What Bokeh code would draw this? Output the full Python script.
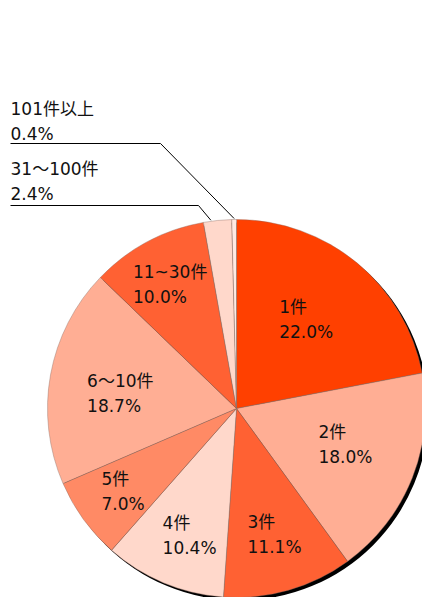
import math
from bokeh.plotting import figure
from bokeh.models import Range1d, ColumnDataSource
from bokeh.core.properties import value
from bokeh.embed import file_html
from bokeh.resources import INLINE

# ---- data ----
categories = ["1件", "2件", "3件", "4件", "5件", "6～10件", "11~30件", "31～100件", "101件以上"]
shares = [22.0, 18.0, 11.1, 10.4, 7.0, 18.7, 10.0, 2.4, 0.4]
pct_labels = [f"{v:.1f}%" for v in shares]

# ---- style / layout ----
colors = ["#FF4000", "#FFAE94", "#FF6133", "#FFD8CB", "#FF8A65",
          "#FFAE94", "#FF6133", "#FFD8CB", "#FFEAE3"]
R = 189
FONT = "DejaVu Sans, Noto Sans CJK JP"
FS = 17
LINE_GAP = 25
TEXT_DY = 1
# label radius for inside labels (None = outside label with leader line)
label_r = [112, 115, 133, 136, 141, 117, 140, None, None]
# small angular nudge (degrees, clockwise) of label / leader anchor
label_da = [-1.1, -2.9, -0.6, -2.5, -0.4, -3.6, -0.2, -2.0, 0.0]
# outside labels: (text centre y of first line, leader elbow x, leader y)
outside = {8: (300, -76, 265), 7: (240, -38, 203)}
OUT_X = -226


def est_width(s):
    w = 0.0
    for ch in s:
        if ch.isdigit():
            w += 0.636
        elif ch == ".":
            w += 0.318
        elif ch == "%":
            w += 0.95
        elif ch == "~":
            w += 0.84
        else:
            w += 1.0
    return w * FS


total = sum(shares)
starts, ends, mids = [], [], []
cum = 0.0
for v in shares:
    a0 = math.pi / 2 - 2 * math.pi * cum / total
    cum += v
    a1 = math.pi / 2 - 2 * math.pi * cum / total
    starts.append(a0)
    ends.append(a1)
    mids.append((a0 + a1) / 2)

p = figure(width=422, height=597, output_backend="svg", toolbar_location=None,
           x_range=Range1d(-236, 186), y_range=Range1d(-189, 408),
           min_border=0)
p.axis.visible = False
p.grid.visible = False
p.outline_line_color = None
p.background_fill_color = "white"

# shadow
p.circle(x=[3], y=[-3], radius=R, fill_color="black", line_color=None)

src = ColumnDataSource(dict(start=starts, end=ends, color=colors, cat=categories))
p.wedge(x=0, y=0, radius=R, start_angle="start", end_angle="end", direction="clock",
        fill_color="color", line_color="#8a6a60", line_width=0.4, source=src)

tx, ty, tt = [], [], []
for i, (c, pl) in enumerate(zip(categories, pct_labels)):
    ang = mids[i] - math.radians(label_da[i])
    if label_r[i] is not None:
        cx = label_r[i] * math.cos(ang)
        cy = label_r[i] * math.sin(ang) + TEXT_DY
        w = max(est_width(c), est_width(pl))
        lx = cx - w / 2
        tx += [lx, lx]
        ty += [cy + LINE_GAP / 2, cy - LINE_GAP / 2]
        tt += [c, pl]
    else:
        y1, ex, ly = outside[i]
        tx += [OUT_X, OUT_X]
        ty += [y1, y1 - LINE_GAP]
        tt += [c, pl]
        px = (R + 1) * math.cos(ang)
        py = (R + 1) * math.sin(ang)
        p.line(x=[OUT_X, ex, px], y=[ly, ly, py], line_color="black", line_width=1)

p.text(x=tx, y=ty, text=tt, text_font=value(FONT), text_font_size=f"{FS}px",
       text_align="left", text_baseline="middle", text_color="#111111")

open("out.html", "w").write(file_html(p, INLINE))
